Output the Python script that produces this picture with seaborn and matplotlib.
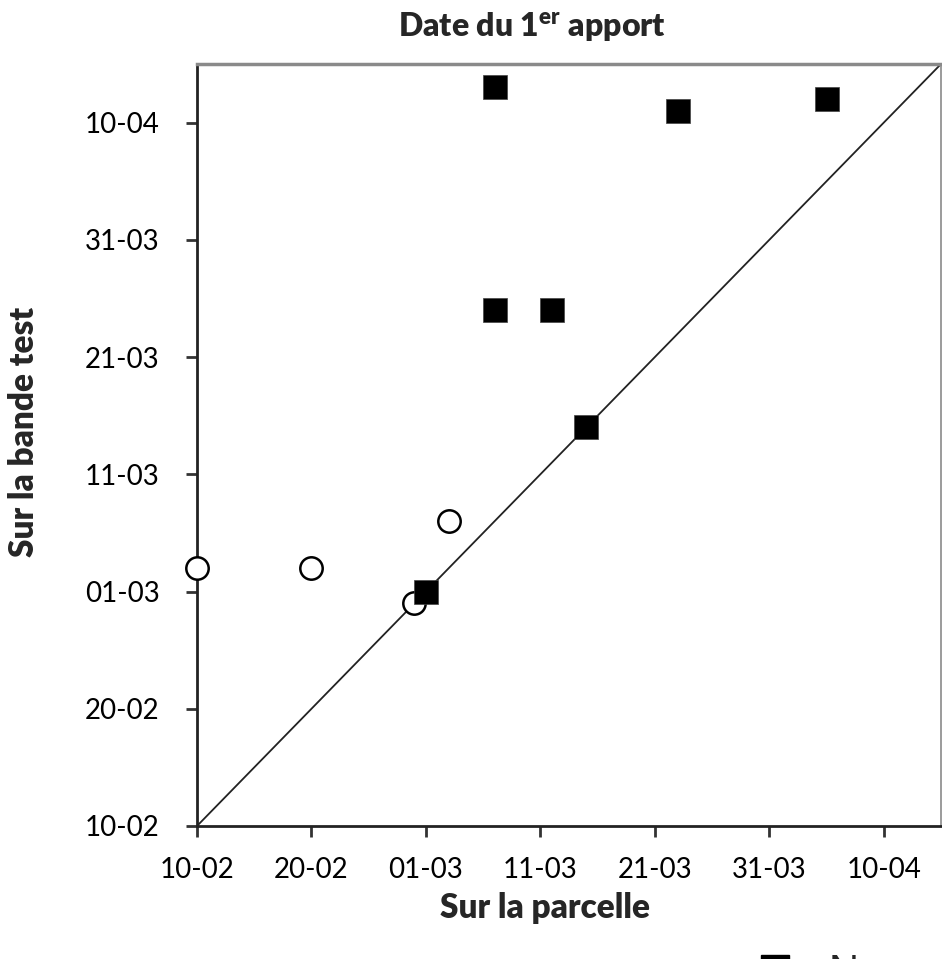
import matplotlib
matplotlib.use("Agg")
import matplotlib.pyplot as plt
import matplotlib.dates as mdates
import seaborn as sns
import pandas as pd
from matplotlib.lines import Line2D

# ---- data (dates, 2012 season) ----
sq_parcelle = ["2012-03-07", "2012-03-23", "2012-04-05", "2012-03-07", "2012-03-12", "2012-03-15", "2012-03-01"]
sq_bande    = ["2012-04-13", "2012-04-11", "2012-04-12", "2012-03-25", "2012-03-25", "2012-03-15", "2012-03-01"]
ci_parcelle = ["2012-02-10", "2012-02-20", "2012-03-03", "2012-02-29"]
ci_bande    = ["2012-03-03", "2012-03-03", "2012-03-07", "2012-02-29"]
tick_dates  = ["2012-02-10", "2012-02-20", "2012-03-01", "2012-03-11", "2012-03-21", "2012-03-31", "2012-04-10"]
lim_dates   = ["2012-02-10", "2012-04-15"]

title = "Date du 1$^{\\mathbf{er}}$ apport"
xlabel = "Sur la parcelle"
ylabel = "Sur la bande test"
legend_labels = ["N-mesure", "autre"]

sns.set_theme(style="white")
plt.rcParams["font.family"] = ["Lato", "DejaVu Sans"]
plt.rcParams["mathtext.fontset"] = "custom"
plt.rcParams["mathtext.rm"] = "Lato:bold"
plt.rcParams["mathtext.bf"] = "Lato:heavy"

df_sq = pd.DataFrame({"x": pd.to_datetime(sq_parcelle), "y": pd.to_datetime(sq_bande)})
df_ci = pd.DataFrame({"x": pd.to_datetime(ci_parcelle), "y": pd.to_datetime(ci_bande)})
lims = pd.to_datetime(lim_dates)
ticks = pd.to_datetime(tick_dates)

fig = plt.figure(figsize=(9.42, 9.59), dpi=100)
ax = fig.add_axes([197/942, 1-826/959, 744/942, 762/959])

ax.plot(lims, lims, color="#222222", lw=1.3, zorder=1)
sns.scatterplot(data=df_ci, x="x", y="y", ax=ax, marker="o", s=260,
                facecolor="white", edgecolor="black", linewidth=1.8, zorder=3,
                clip_on=False, legend=False)
sns.scatterplot(data=df_sq, x="x", y="y", ax=ax, marker="s", s=300,
                color="black", edgecolor="#444444", linewidth=0.5, zorder=4,
                clip_on=False, legend=False)

ax.set_xlim(lims[0], lims[1])
ax.set_ylim(lims[0], lims[1])
ax.set_xticks(ticks)
ax.set_yticks(ticks)
fmt = mdates.DateFormatter("%d-%m")
ax.xaxis.set_major_formatter(fmt)
ax.yaxis.set_major_formatter(fmt)

ax.tick_params(axis="both", which="major", direction="out", length=8, width=2,
               color="#333333", labelsize=20, labelcolor="black")
ax.tick_params(axis="x", bottom=True, pad=14)
ax.tick_params(axis="y", left=True, pad=19)

for side in ["left", "bottom"]:
    ax.spines[side].set_color("#222222")
    ax.spines[side].set_linewidth(2)
ax.spines["top"].set_color("#8a8a8a")
ax.spines["top"].set_linewidth(2.5)
ax.spines["right"].set_color("#8a8a8a")
ax.spines["right"].set_linewidth(1.2)

ax.set_xlabel(xlabel, fontsize=24, fontweight="heavy")
ax.set_ylabel(ylabel, fontsize=24, fontweight="heavy")
ax.xaxis.set_label_coords((545-197)/744, (826-892)/762)
ax.yaxis.set_label_coords((40-197)/744, (826-432)/762)
fig.text(532/942, 1-27/959, title, ha="center", va="center",
         fontsize=23, fontweight="heavy")

handles = [Line2D([], [], marker="s", color="black", ls="", markersize=20),
           Line2D([], [], marker="o", markerfacecolor="white", markeredgecolor="black", ls="", markersize=17)]
leg = ax.legend(handles, legend_labels, loc="upper left",
                bbox_to_anchor=(733/942, 1-953/959), bbox_transform=fig.transFigure,
                frameon=False, prop={"family": "Liberation Sans", "size": 30},
                handletextpad=0.3, borderaxespad=0, borderpad=0)

fig.savefig("out.png", dpi=100)
